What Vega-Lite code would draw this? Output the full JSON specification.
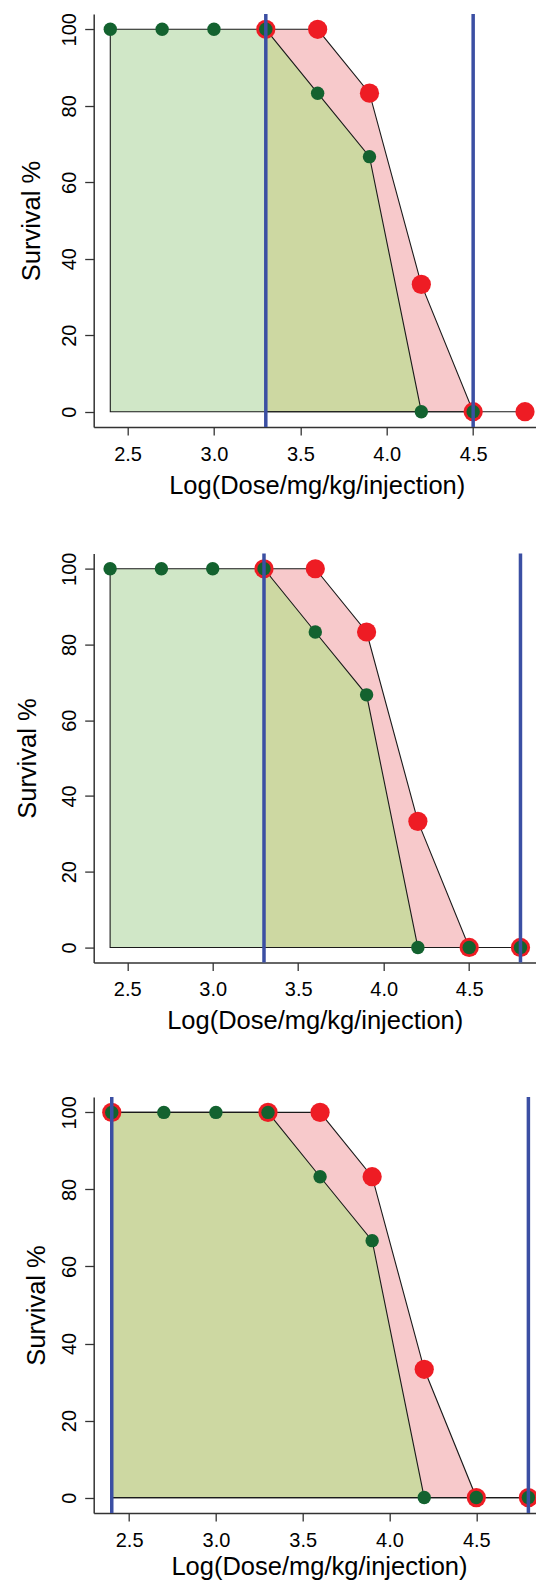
{
  "$schema": "https://vega.github.io/schema/vega-lite/v6.json",
  "padding": {"left": 15.7, "top": 12, "right": 0, "bottom": 0},
  "datasets": {
    "pts": [
      {"p": 1, "s": "green", "dose": 2.4, "surv": 100},
      {"p": 1, "s": "green", "dose": 2.7, "surv": 100},
      {"p": 1, "s": "green", "dose": 3.0, "surv": 100},
      {"p": 1, "s": "green", "dose": 3.3, "surv": 100},
      {"p": 1, "s": "green", "dose": 3.6, "surv": 83.3},
      {"p": 1, "s": "green", "dose": 3.9, "surv": 66.7},
      {"p": 1, "s": "green", "dose": 4.2, "surv": 0},
      {"p": 1, "s": "green", "dose": 4.5, "surv": 0},
      {"p": 1, "s": "red", "dose": 3.3, "surv": 100},
      {"p": 1, "s": "red", "dose": 3.6, "surv": 100},
      {"p": 1, "s": "red", "dose": 3.9, "surv": 83.3},
      {"p": 1, "s": "red", "dose": 4.2, "surv": 33.3},
      {"p": 1, "s": "red", "dose": 4.5, "surv": 0},
      {"p": 1, "s": "red", "dose": 4.8, "surv": 0},
      {"p": 2, "s": "green", "dose": 2.4, "surv": 100},
      {"p": 2, "s": "green", "dose": 2.7, "surv": 100},
      {"p": 2, "s": "green", "dose": 3.0, "surv": 100},
      {"p": 2, "s": "green", "dose": 3.3, "surv": 100},
      {"p": 2, "s": "green", "dose": 3.6, "surv": 83.3},
      {"p": 2, "s": "green", "dose": 3.9, "surv": 66.7},
      {"p": 2, "s": "green", "dose": 4.2, "surv": 0},
      {"p": 2, "s": "green", "dose": 4.5, "surv": 0},
      {"p": 2, "s": "green", "dose": 4.8, "surv": 0},
      {"p": 2, "s": "red", "dose": 3.3, "surv": 100},
      {"p": 2, "s": "red", "dose": 3.6, "surv": 100},
      {"p": 2, "s": "red", "dose": 3.9, "surv": 83.3},
      {"p": 2, "s": "red", "dose": 4.2, "surv": 33.3},
      {"p": 2, "s": "red", "dose": 4.5, "surv": 0},
      {"p": 2, "s": "red", "dose": 4.8, "surv": 0},
      {"p": 3, "s": "green", "dose": 2.4, "surv": 100},
      {"p": 3, "s": "green", "dose": 2.7, "surv": 100},
      {"p": 3, "s": "green", "dose": 3.0, "surv": 100},
      {"p": 3, "s": "green", "dose": 3.3, "surv": 100},
      {"p": 3, "s": "green", "dose": 3.6, "surv": 83.3},
      {"p": 3, "s": "green", "dose": 3.9, "surv": 66.7},
      {"p": 3, "s": "green", "dose": 4.2, "surv": 0},
      {"p": 3, "s": "green", "dose": 4.5, "surv": 0},
      {"p": 3, "s": "green", "dose": 4.8, "surv": 0},
      {"p": 3, "s": "red", "dose": 2.4, "surv": 100},
      {"p": 3, "s": "red", "dose": 3.3, "surv": 100},
      {"p": 3, "s": "red", "dose": 3.6, "surv": 100},
      {"p": 3, "s": "red", "dose": 3.9, "surv": 83.3},
      {"p": 3, "s": "red", "dose": 4.2, "surv": 33.3},
      {"p": 3, "s": "red", "dose": 4.5, "surv": 0},
      {"p": 3, "s": "red", "dose": 4.8, "surv": 0}
    ],
    "rules": [
      {"p": 1, "dose": 3.3}, {"p": 1, "dose": 4.5},
      {"p": 2, "dose": 3.3}, {"p": 2, "dose": 4.8},
      {"p": 3, "dose": 2.4}, {"p": 3, "dose": 4.8}
    ]
  },
  "vconcat": [
    {
      "vconcat": [
        {
          "width": 446, "height": 413,
          "layer": [
            {"data": {"name": "pts"}, "transform": [{"filter": "datum.p == 1 && datum.s == 'red'"}],
             "mark": {"type": "area", "orient": "vertical", "fill": "#f7c9cb"},
             "encoding": {
               "x": {"field": "dose", "type": "quantitative", "scale": {"domain": [2.304, 4.885], "nice": false, "zero": false},
                     "axis": {"values": [2.5, 3, 3.5, 4, 4.5], "format": ".1f", "tickSize": 8, "labelPadding": 9, "labelOverlap": false, "labelFlush": false, "title": "Log(Dose/mg/kg/injection)", "titlePadding": 9}},
               "y": {"field": "surv", "type": "quantitative", "scale": {"domain": [-4, 104], "nice": false, "zero": false},
                     "axis": {"values": [0, 20, 40, 60, 80, 100], "tickSize": 9, "labelAngle": 270, "labelAlign": "center", "labelBaseline": "alphabetic", "labelPadding": 9, "labelOverlap": false, "labelFlush": false, "title": "Survival %", "titlePadding": 15}},
               "y2": {"datum": 0}}},
            {"data": {"name": "pts"}, "transform": [{"filter": "datum.p == 1 && datum.s == 'green'"}],
             "mark": {"type": "area", "orient": "vertical", "fill": "#d0e7c7"},
             "encoding": {"x": {"field": "dose", "type": "quantitative"}, "y": {"field": "surv", "type": "quantitative"}, "y2": {"datum": 0}}},
            {"data": {"name": "pts"}, "transform": [{"filter": "datum.p == 1 && datum.s == 'green' && datum.dose >= 3.3"}],
             "mark": {"type": "area", "orient": "vertical", "fill": "#cdd8a2"},
             "encoding": {"x": {"field": "dose", "type": "quantitative"}, "y": {"field": "surv", "type": "quantitative"}, "y2": {"datum": 0}}},
            {"data": {"name": "pts"}, "transform": [{"filter": "datum.p == 1 && datum.s == 'red'"}],
             "mark": {"type": "area", "orient": "vertical", "fillOpacity": 0, "stroke": "#1a1a1a", "strokeWidth": 1.1},
             "encoding": {"x": {"field": "dose", "type": "quantitative"}, "y": {"field": "surv", "type": "quantitative"}, "y2": {"datum": 0}}},
            {"data": {"name": "pts"}, "transform": [{"filter": "datum.p == 1 && datum.s == 'green'"}],
             "mark": {"type": "area", "orient": "vertical", "fillOpacity": 0, "stroke": "#1a1a1a", "strokeWidth": 1.1},
             "encoding": {"x": {"field": "dose", "type": "quantitative"}, "y": {"field": "surv", "type": "quantitative"}, "y2": {"datum": 0}}},
            {"mark": {"type": "rule", "color": "#333333", "strokeWidth": 1.5},
             "encoding": {"y": {"datum": 104}}},
            {"data": {"name": "pts"}, "transform": [{"filter": "datum.p == 1 && datum.s == 'red'"}],
             "mark": {"type": "circle", "size": 370, "color": "#ee1c24", "opacity": 1},
             "encoding": {"x": {"field": "dose", "type": "quantitative"}, "y": {"field": "surv", "type": "quantitative"}}},
            {"data": {"name": "pts"}, "transform": [{"filter": "datum.p == 1 && datum.s == 'green'"}],
             "mark": {"type": "circle", "size": 180, "color": "#13622f", "opacity": 1},
             "encoding": {"x": {"field": "dose", "type": "quantitative"}, "y": {"field": "surv", "type": "quantitative"}}},
            {"data": {"name": "rules"}, "transform": [{"filter": "datum.p == 1"}],
             "mark": {"type": "rule", "color": "#3b4fa3", "strokeWidth": 3.5},
             "encoding": {"x": {"field": "dose", "type": "quantitative"}}}
          ]
        },
        {
          "width": 442, "height": 409,
          "layer": [
            {"data": {"name": "pts"}, "transform": [{"filter": "datum.p == 2 && datum.s == 'red'"}],
             "mark": {"type": "area", "orient": "vertical", "fill": "#f7c9cb"},
             "encoding": {
               "x": {"field": "dose", "type": "quantitative", "scale": {"domain": [2.304, 4.889], "nice": false, "zero": false},
                     "axis": {"values": [2.5, 3, 3.5, 4, 4.5], "format": ".1f", "tickSize": 8, "labelPadding": 9, "labelOverlap": false, "labelFlush": false, "title": "Log(Dose/mg/kg/injection)", "titlePadding": 9}},
               "y": {"field": "surv", "type": "quantitative", "scale": {"domain": [-4, 104], "nice": false, "zero": false},
                     "axis": {"values": [0, 20, 40, 60, 80, 100], "tickSize": 9, "labelAngle": 270, "labelAlign": "center", "labelBaseline": "alphabetic", "labelPadding": 9, "labelOverlap": false, "labelFlush": false, "title": "Survival %", "titlePadding": 18.8}},
               "y2": {"datum": 0}}},
            {"data": {"name": "pts"}, "transform": [{"filter": "datum.p == 2 && datum.s == 'green'"}],
             "mark": {"type": "area", "orient": "vertical", "fill": "#d0e7c7"},
             "encoding": {"x": {"field": "dose", "type": "quantitative"}, "y": {"field": "surv", "type": "quantitative"}, "y2": {"datum": 0}}},
            {"data": {"name": "pts"}, "transform": [{"filter": "datum.p == 2 && datum.s == 'green' && datum.dose >= 3.3"}],
             "mark": {"type": "area", "orient": "vertical", "fill": "#cdd8a2"},
             "encoding": {"x": {"field": "dose", "type": "quantitative"}, "y": {"field": "surv", "type": "quantitative"}, "y2": {"datum": 0}}},
            {"data": {"name": "pts"}, "transform": [{"filter": "datum.p == 2 && datum.s == 'red'"}],
             "mark": {"type": "area", "orient": "vertical", "fillOpacity": 0, "stroke": "#1a1a1a", "strokeWidth": 1.1},
             "encoding": {"x": {"field": "dose", "type": "quantitative"}, "y": {"field": "surv", "type": "quantitative"}, "y2": {"datum": 0}}},
            {"data": {"name": "pts"}, "transform": [{"filter": "datum.p == 2 && datum.s == 'green'"}],
             "mark": {"type": "area", "orient": "vertical", "fillOpacity": 0, "stroke": "#1a1a1a", "strokeWidth": 1.1},
             "encoding": {"x": {"field": "dose", "type": "quantitative"}, "y": {"field": "surv", "type": "quantitative"}, "y2": {"datum": 0}}},
            {"mark": {"type": "rule", "color": "#333333", "strokeWidth": 1.5},
             "encoding": {"y": {"datum": 104}}},
            {"data": {"name": "pts"}, "transform": [{"filter": "datum.p == 2 && datum.s == 'red'"}],
             "mark": {"type": "circle", "size": 370, "color": "#ee1c24", "opacity": 1},
             "encoding": {"x": {"field": "dose", "type": "quantitative"}, "y": {"field": "surv", "type": "quantitative"}}},
            {"data": {"name": "pts"}, "transform": [{"filter": "datum.p == 2 && datum.s == 'green'"}],
             "mark": {"type": "circle", "size": 180, "color": "#13622f", "opacity": 1},
             "encoding": {"x": {"field": "dose", "type": "quantitative"}, "y": {"field": "surv", "type": "quantitative"}}},
            {"data": {"name": "rules"}, "transform": [{"filter": "datum.p == 2"}],
             "mark": {"type": "rule", "color": "#3b4fa3", "strokeWidth": 3.5},
             "encoding": {"x": {"field": "dose", "type": "quantitative"}}}
          ]
        }
      ],
      "spacing": 52.6,
      "align": "none"
    },
    {
      "width": 450.5, "height": 416,
      "layer": [
        {"data": {"name": "pts"}, "transform": [{"filter": "datum.p == 3 && datum.s == 'red'"}],
         "mark": {"type": "area", "orient": "vertical", "fill": "#f7c9cb"},
         "encoding": {
           "x": {"field": "dose", "type": "quantitative", "scale": {"domain": [2.296, 4.891], "nice": false, "zero": false},
                 "axis": {"values": [2.5, 3, 3.5, 4, 4.5], "format": ".1f", "tickSize": 8, "labelPadding": 10, "labelOverlap": false, "labelFlush": false, "title": "Log(Dose/mg/kg/injection)", "titlePadding": 4}},
           "y": {"field": "surv", "type": "quantitative", "scale": {"domain": [-4, 104], "nice": false, "zero": false},
                 "axis": {"values": [0, 20, 40, 60, 80, 100], "tickSize": 9, "labelAngle": 270, "labelAlign": "center", "labelBaseline": "alphabetic", "labelPadding": 9, "labelOverlap": false, "labelFlush": false, "title": "Survival %", "titlePadding": 10.5}},
           "y2": {"datum": 0}}},
        {"data": {"name": "pts"}, "transform": [{"filter": "datum.p == 3 && datum.s == 'green'"}],
         "mark": {"type": "area", "orient": "vertical", "fill": "#d0e7c7"},
         "encoding": {"x": {"field": "dose", "type": "quantitative"}, "y": {"field": "surv", "type": "quantitative"}, "y2": {"datum": 0}}},
        {"data": {"name": "pts"}, "transform": [{"filter": "datum.p == 3 && datum.s == 'green' && datum.dose >= 2.4"}],
         "mark": {"type": "area", "orient": "vertical", "fill": "#cdd8a2"},
         "encoding": {"x": {"field": "dose", "type": "quantitative"}, "y": {"field": "surv", "type": "quantitative"}, "y2": {"datum": 0}}},
        {"data": {"name": "pts"}, "transform": [{"filter": "datum.p == 3 && datum.s == 'red'"}],
         "mark": {"type": "area", "orient": "vertical", "fillOpacity": 0, "stroke": "#1a1a1a", "strokeWidth": 1.1},
         "encoding": {"x": {"field": "dose", "type": "quantitative"}, "y": {"field": "surv", "type": "quantitative"}, "y2": {"datum": 0}}},
        {"data": {"name": "pts"}, "transform": [{"filter": "datum.p == 3 && datum.s == 'green'"}],
         "mark": {"type": "area", "orient": "vertical", "fillOpacity": 0, "stroke": "#1a1a1a", "strokeWidth": 1.1},
         "encoding": {"x": {"field": "dose", "type": "quantitative"}, "y": {"field": "surv", "type": "quantitative"}, "y2": {"datum": 0}}},
        {"mark": {"type": "rule", "color": "#333333", "strokeWidth": 1.5},
         "encoding": {"y": {"datum": 104}}},
        {"data": {"name": "pts"}, "transform": [{"filter": "datum.p == 3 && datum.s == 'red'"}],
         "mark": {"type": "circle", "size": 370, "color": "#ee1c24", "opacity": 1},
         "encoding": {"x": {"field": "dose", "type": "quantitative"}, "y": {"field": "surv", "type": "quantitative"}}},
        {"data": {"name": "pts"}, "transform": [{"filter": "datum.p == 3 && datum.s == 'green'"}],
         "mark": {"type": "circle", "size": 180, "color": "#13622f", "opacity": 1},
         "encoding": {"x": {"field": "dose", "type": "quantitative"}, "y": {"field": "surv", "type": "quantitative"}}},
        {"data": {"name": "rules"}, "transform": [{"filter": "datum.p == 3"}],
         "mark": {"type": "rule", "color": "#3b4fa3", "strokeWidth": 3.5},
         "encoding": {"x": {"field": "dose", "type": "quantitative"}}}
      ]
    }
  ],
  "spacing": 60,
  "align": "none",
  "config": {
    "view": {"stroke": null},
    "font": "Liberation Sans",
    "axis": {
      "grid": false,
      "domainColor": "#333333", "domainWidth": 1.5,
      "tickColor": "#333333", "tickWidth": 1.3,
      "labelColor": "#000000", "labelFontSize": 20, "labelFont": "Liberation Sans",
      "titleColor": "#000000", "titleFontSize": 25.5, "titleFontWeight": "normal", "titleFont": "Liberation Sans"
    }
  }
}
